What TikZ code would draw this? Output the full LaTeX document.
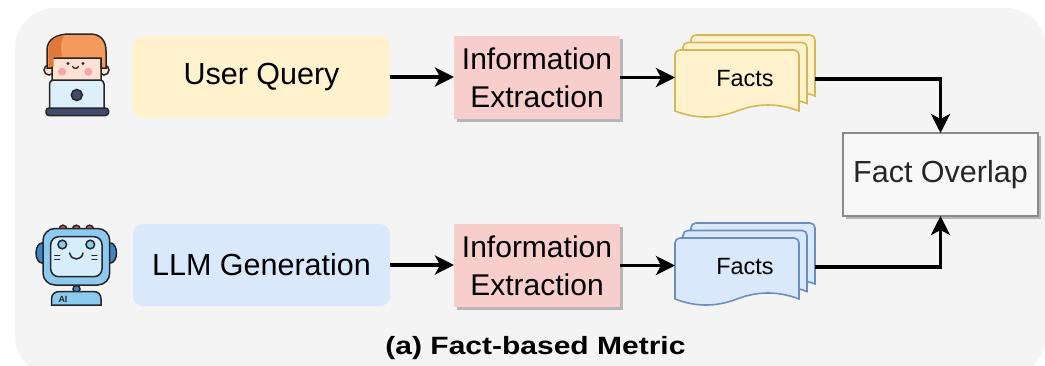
\documentclass[tikz,border=0pt]{standalone}
\usepackage{fontspec}
\setmainfont{Liberation Sans}
\usetikzlibrary{arrows.meta,shadows}

\definecolor{panel}{HTML}{F4F4F4}
\definecolor{qyellow}{HTML}{FFF2CC}
\definecolor{qyellowline}{HTML}{D6B656}
\definecolor{gblue}{HTML}{DAE8FC}
\definecolor{gblueline}{HTML}{6C8EBF}
\definecolor{iered}{HTML}{F8CECC}
\definecolor{ovfill}{HTML}{F8F8F8}
\definecolor{ovline}{HTML}{8A8A8A}
\definecolor{ink}{HTML}{262626}
\definecolor{hairlight}{HTML}{F59A5C}
\definecolor{hairdark}{HTML}{E07838}
\definecolor{skin}{HTML}{FDE2D2}
\definecolor{cheek}{HTML}{F7A3B0}
\definecolor{screenblue}{HTML}{DCEFFB}
\definecolor{navy}{HTML}{414B6E}
\definecolor{botblue}{HTML}{8CCAF0}
\definecolor{botpale}{HTML}{D6EDFA}
\definecolor{botdark}{HTML}{3F86C4}
\definecolor{botred}{HTML}{E05A5E}

% one sheet of the stacked-document symbol, drawn at a given top-left corner
\newcommand\factsheet[3]{%
  \filldraw[fill=#2, draw=#3, line width=1.6pt, shift={#1}]
    (0,61) -- (0,5) .. controls (0,2) and (2,0) .. (5,0) -- (119,0)
    .. controls (122,0) and (124,2) .. (124,5) -- (124,61)
    .. controls (103.3,53) and (82.7,53) .. (62,61)
    .. controls (41.3,69) and (20.7,69) .. (0,61) -- cycle;}

\tikzset{
  inbox/.style={rounded corners=10pt, minimum width=257pt, minimum height=82pt,
    inner sep=0pt, outer sep=0pt, font=\fontsize{30.5}{36}\selectfont, text=black},
  extract/.style={fill=iered, minimum width=166pt, minimum height=83pt, inner sep=0pt,
    outer sep=0pt, align=center, font=\fontsize{30}{38}\selectfont,
    drop shadow={shadow xshift=3pt, shadow yshift=-3pt, opacity=0.25, fill=black}},
  overlap/.style={fill=ovfill, draw=ovline, line width=1.2pt, minimum width=195pt,
    minimum height=83pt, inner sep=0pt, outer sep=0pt, text=ink,
    font=\fontsize{30.5}{36}\selectfont,
    drop shadow={shadow xshift=3pt, shadow yshift=-3pt, opacity=0.25, fill=black}},
  factlabel/.style={minimum width=140pt, minimum height=80pt, inner sep=0pt,
    outer sep=0pt, font=\fontsize{23.5}{28}\selectfont},
  flow/.style={line width=3.5pt, -{Stealth[length=19pt, width=19pt, inset=5pt]}},
  outline/.style={draw=ink, line width=1.5pt},
}

\begin{document}
\begin{tikzpicture}[x=1pt, y=-1pt]
\useasboundingbox (0,0) rectangle (1045,365);

% panel
\fill[panel, rounded corners=40pt] (15,8) rectangle (1046,376);

% ---------- user icon ----------
\filldraw[fill=skin, outline] (49,70) circle (5);
\filldraw[fill=skin, outline] (104,70) circle (5);
\filldraw[fill=skin, outline, rounded corners=6pt] (52,50) rectangle (101,88);
\filldraw[fill=hairlight, outline]
  (47,68) -- (47,50) .. controls (47,39) and (57,34) .. (70,34) -- (90,34)
  .. controls (101,34) and (106,41) .. (106,51) -- (106,68) -- (101,68)
  -- (101,58) -- (52,58) -- (52,68) -- cycle;
\fill[hairdark] (48.5,66.5) -- (48.5,50) .. controls (48.5,41) and (55,36) .. (64,35.5)
  .. controls (60,42) and (60,50) .. (62,56.5) -- (53.5,56.5) -- (53.5,66.5) -- cycle;
\fill[cheek] (62,71.7) circle (4);
\fill[cheek] (88.3,71.7) circle (4);
\fill[ink] (68,63.5) circle (1.6);
\fill[ink] (83,63.5) circle (1.6);
\draw[ink, line width=1.3pt, line cap=round] (72.5,66.5) .. controls (74,69) and (77,69) .. (78.5,66.5);
\filldraw[fill=screenblue, outline, rounded corners=4pt] (49.5,109) -- (49.5,80) -- (104,80) -- (104,109);
\filldraw[fill=navy, outline] (76.8,95) circle (5.5);
\filldraw[fill=navy, outline, rounded corners=3pt] (46,108) rectangle (108.5,115.5);

% ---------- robot icon ----------
\foreach \bx in {63,76.3,89.7}
  \filldraw[fill=botred, outline] (\bx,229) circle (3.8);
\filldraw[fill=botdark, outline] (42,253) ellipse (6 and 10);
\filldraw[fill=botdark, outline] (110.5,253) ellipse (6 and 10);
\filldraw[fill=botdark, outline] (76.5,289) circle (3.5);
\filldraw[fill=botblue, outline] (51.5,305) -- (51.5,299) .. controls (51.5,294) and (55,291.5) .. (60,291.5)
  -- (93,291.5) .. controls (98,291.5) and (101,294) .. (101,299) -- (101,305) -- cycle;
\node[font=\bfseries\fontsize{9}{10}\selectfont, text=ink, inner sep=0pt] (botai) at (63,299) {AI};
\filldraw[fill=botblue, outline, rounded corners=12pt] (43,228.5) rectangle (109.7,285);
\filldraw[fill=botpale, outline, rounded corners=8pt] (50.7,236.7) rectangle (102,276.7);
\filldraw[fill=botblue, outline] (62.3,244.5) circle (4.3);
\filldraw[fill=botblue, outline] (90.3,244.5) circle (4.3);
\draw[ink, line width=1.5pt, line cap=round] (69.7,253) .. controls (71,261) and (81.7,261) .. (83,253);
\draw[ink, line width=1.2pt, line cap=round] (54.7,255.7) -- (59.8,255.7) (54.7,259.2) -- (59.8,259.2)
  (92,255.7) -- (97,255.7) (92,259.2) -- (97,259.2);

% ---------- input boxes ----------
\node[inbox, fill=qyellow] (query) at (261.5,77) {User Query};
\node[inbox, fill=gblue] (llm) at (261.5,265) {LLM Generation};

% ---------- extraction ----------
\node[extract] (ieA) at (537,77.5) {Information\\Extraction};
\node[extract] (ieB) at (537,265.5) {Information\\Extraction};

% ---------- extracted facts ----------
\factsheet{(691,35)}{qyellow}{qyellowline}
\factsheet{(683,42.5)}{qyellow}{qyellowline}
\factsheet{(675,50)}{qyellow}{qyellowline}
\node[factlabel] (factsA) at (745,79) {Facts};

\factsheet{(691,223)}{gblue}{gblueline}
\factsheet{(683,230.5)}{gblue}{gblueline}
\factsheet{(675,238)}{gblue}{gblueline}
\node[factlabel] (factsB) at (745,267) {Facts};

% ---------- comparison ----------
\node[overlap] (overlap) at (940.5,174.5) {Fact Overlap};

% ---------- connectors ----------
\draw[flow] (query.east) -- (query.east -| ieA.west);
\draw[flow] (llm.east) -- (llm.east -| ieB.west);
\draw[flow] (ieA.east) -- (ieA.east -| factsA.west);
\draw[flow] (ieB.east) -- (ieB.east -| factsB.west);
\draw[flow] (factsA.east) -| (overlap.north);
\draw[flow] (factsB.east) -| (overlap.south);

% ---------- caption ----------
\node[font=\bfseries\fontsize{25}{30}\selectfont, inner sep=0pt] (caption) at (535.5,348)
  {\scalebox{1.2}[1]{(a) Fact-based Metric}};
\end{tikzpicture}
\end{document}
